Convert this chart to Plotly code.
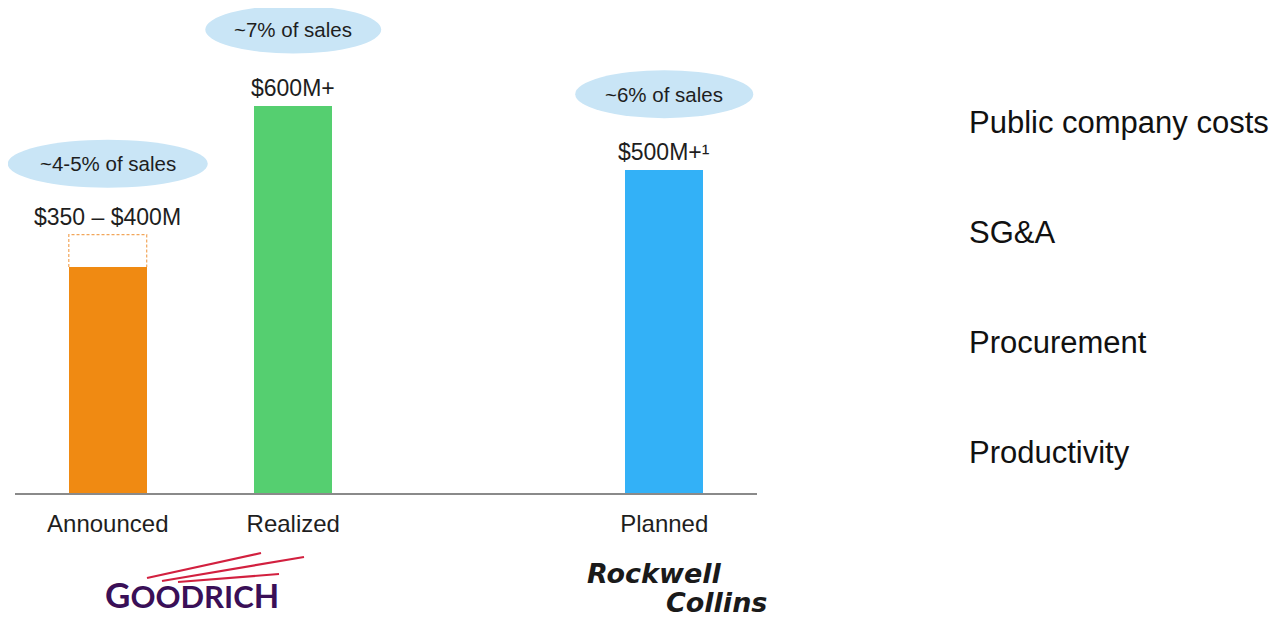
import plotly.graph_objects as go

# ---- data ----
categories = ["Announced", "Realized", "Planned"]
positions = [0, 1, 3]
low_values = [350, 600, 500]
high_values = [400, 600, 500]
value_labels = ["$350 – $400M", "$600M+", "$500M+¹"]
pct_labels = ["~4-5% of sales", "~7% of sales", "~6% of sales"]
drivers = ["Public company costs", "SG&A", "Procurement", "Productivity"]

# ---- style ----
bar_colors = ["#F08A12", "#55CF70", "#33B1F7"]
ellipse_w = [200, 176, 178]
ellipse_h = 48
ellipse_dy = [71, 76, 76]
FONT = "Arial, Liberation Sans, sans-serif"
BAR_W = 0.42
OFF = 8  # page body margin
W, H = 1288 - OFF, 619 - OFF
L, R, T, B = 15 - OFF, 531, 41 - OFF, 126
plot_w = W - L - R
plot_h = H - T - B
XR = [-0.5, 3.5]
YR = [0, 700]


def px(xp, yp):
    """reference pixel -> paper coords"""
    return (xp - OFF - L) / plot_w, (H - B - (yp - OFF)) / plot_h


def data2paper(x, y):
    return (x - XR[0]) / (XR[1] - XR[0]), (y - YR[0]) / (YR[1] - YR[0])


fig = go.Figure()
fig.add_trace(go.Bar(
    x=positions, y=low_values, width=BAR_W,
    marker=dict(color=bar_colors, line=dict(width=0)),
    hoverinfo="skip", showlegend=False,
))

# dashed range outlines where the high value exceeds the low value
for p, lo, hi, c in zip(positions, low_values, high_values, bar_colors):
    if hi > lo:
        fig.add_trace(go.Scatter(
            x=[p - BAR_W / 2, p - BAR_W / 2, p + BAR_W / 2, p + BAR_W / 2],
            y=[lo, hi, hi, lo], mode="lines",
            line=dict(color="#F2A65A", width=1.2, dash="3px,2px"),
            hoverinfo="skip", showlegend=False,
        ))

annotations = []
shapes = []
for p, hi, vl, pl, ew, dy in zip(positions, high_values, value_labels, pct_labels, ellipse_w, ellipse_dy):
    annotations.append(dict(
        x=p, y=hi, xref="x", yref="y", text=vl, showarrow=False,
        yanchor="middle", yshift=18, font=dict(family=FONT, size=23, color="#1e1e1e"),
    ))
    ex, ey = data2paper(p, hi)
    ey += dy / plot_h
    hw = ew / 2 / plot_w
    hh = ellipse_h / 2 / plot_h
    shapes.append(dict(
        type="circle", xref="paper", yref="paper",
        x0=ex - hw, x1=ex + hw, y0=ey - hh, y1=ey + hh,
        fillcolor="#C9E5F6", line=dict(width=0), layer="below",
    ))
    annotations.append(dict(
        x=ex, y=ey, xref="paper", yref="paper", text=pl, showarrow=False,
        xanchor="center", yanchor="middle", font=dict(family=FONT, size=20.5, color="#1e1e1e"),
    ))

# driver list on the right
for i, d in enumerate(drivers):
    xp, yp = px(967, 122 + 110 * i)
    annotations.append(dict(
        x=xp, y=yp, xref="paper", yref="paper", text=d, showarrow=False,
        xanchor="left", yanchor="middle", font=dict(family=FONT, size=31, color="#111"),
    ))

# Goodrich logo
gx, gy = px(192, 594)
annotations.append(dict(
    x=gx, y=gy, xref="paper", yref="paper",
    text="<span style='font-size:35px'>G</span>OODRIC<span style='font-size:33px'>H</span>",
    showarrow=False, xanchor="center", yanchor="middle",
    font=dict(family="Lato, Open Sans, sans-serif", size=31, color="#3A0F57", weight=700),
))
for (x0, y0, x1, y1) in [(147, 578, 261, 553), (162, 581, 304, 557), (178, 582, 279, 574)]:
    a0, b0 = px(x0, y0)
    a1, b1 = px(x1, y1)
    shapes.append(dict(type="line", xref="paper", yref="paper", x0=a0, y0=b0, x1=a1, y1=b1,
                       line=dict(color="#D2203F", width=2.2)))

# Rockwell Collins logo
LOGO_FONT = "DejaVu Sans, Arial, sans-serif"
rx, ry = px(654, 573)
annotations.append(dict(
    x=rx, y=ry, xref="paper", yref="paper", text="<b><i>Rockwell</i></b>", showarrow=False,
    xanchor="center", yanchor="middle", font=dict(family=LOGO_FONT, size=27, color="#1a1a1a"),
))
cx, cy = px(769, 602)
annotations.append(dict(
    x=cx, y=cy, xref="paper", yref="paper", text="<b><i>Collins</i></b>", showarrow=False,
    xanchor="right", yanchor="middle", font=dict(family=LOGO_FONT, size=27, color="#1a1a1a"),
))

fig.update_layout(
    width=W, height=H,
    margin=dict(l=L, r=R, t=T, b=B, pad=0),
    paper_bgcolor="white", plot_bgcolor="white",
    bargap=0,
    xaxis=dict(
        range=XR, tickvals=positions, ticktext=categories,
        showline=True, linecolor="#8a8a8a", linewidth=1.5, ticks="",
        showgrid=False, zeroline=False, ticklabelstandoff=8,
        tickfont=dict(family=FONT, size=24, color="#1e1e1e"),
    ),
    yaxis=dict(range=YR, visible=False, showgrid=False, zeroline=False),
    annotations=annotations, shapes=shapes,
)

fig.write_html("out.html")
